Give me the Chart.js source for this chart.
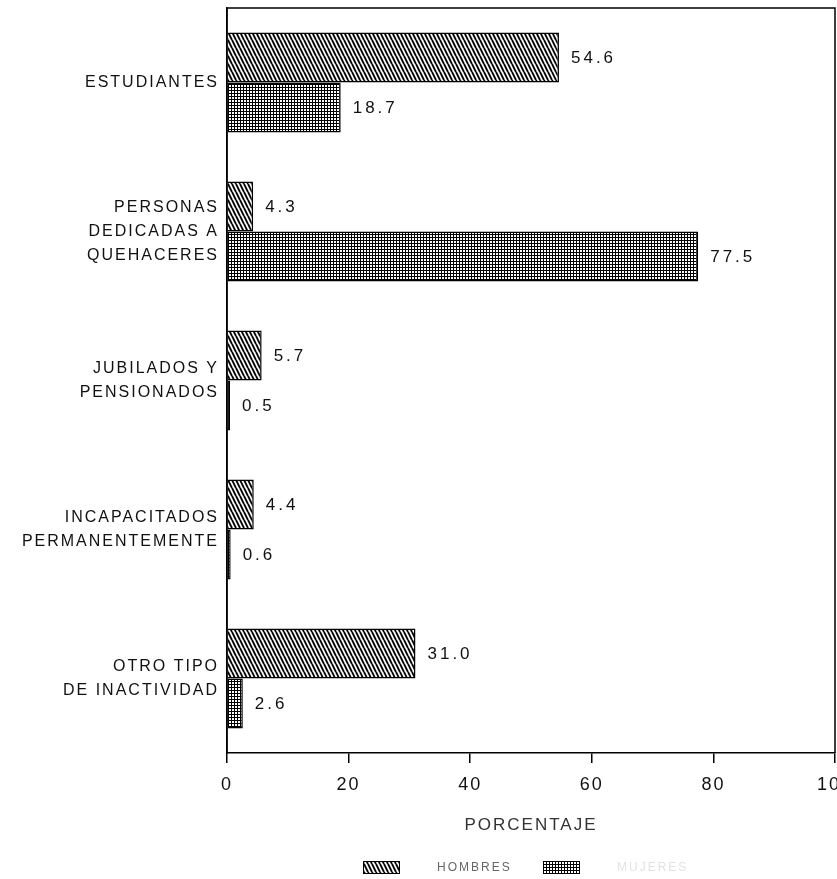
<!DOCTYPE html>
<html>
<head>
<meta charset="utf-8">
<script src="https://cdn.jsdelivr.net/npm/chart.js@4/dist/chart.umd.min.js"></script>
<style>
  html, body { margin: 0; padding: 0; background: #ffffff; }
  #wrap { width: 837px; height: 879px; position: relative; }
</style>
</head>
<body>
<div id="wrap"><canvas id="c" width="837" height="879"></canvas></div>
<script>
// ---- data ----
const categories = [
  ['ESTUDIANTES'],
  ['PERSONAS', 'DEDICADAS A', 'QUEHACERES'],
  ['JUBILADOS Y', 'PENSIONADOS'],
  ['INCAPACITADOS', 'PERMANENTEMENTE'],
  ['OTRO TIPO', 'DE INACTIVIDAD']
];
const seriesNames = ['HOMBRES', 'MUJERES'];
const hombres = [54.6, 4.3, 5.7, 4.4, 31.0];
const mujeres = [18.7, 77.5, 0.5, 0.6, 2.6];
const xTickValues = [0, 20, 40, 60, 80, 100];
const axisTitle = 'PORCENTAJE';

// ---- patterns ----
function hatchPattern() {
  const t = document.createElement('canvas');
  t.width = 4; t.height = 8;
  const g = t.getContext('2d');
  g.fillStyle = '#fff'; g.fillRect(0, 0, 4, 8);
  g.strokeStyle = '#000'; g.lineWidth = 1.9;
  for (const x0 of [-4, 0, 4]) {
    g.beginPath(); g.moveTo(x0, 0); g.lineTo(x0 + 4, 8); g.stroke();
  }
  return g.createPattern(t, 'repeat');
}
function gridPattern() {
  const t = document.createElement('canvas');
  t.width = 3; t.height = 3;
  const g = t.getContext('2d');
  g.fillStyle = '#fff'; g.fillRect(0, 0, 3, 3);
  g.fillStyle = '#000';
  g.fillRect(0, 0, 3, 1);
  g.fillRect(0, 0, 1, 3);
  return g.createPattern(t, 'repeat');
}
const pHatch = hatchPattern();
const pGrid = gridPattern();
const FONT = "'Liberation Sans', Arial, Helvetica, sans-serif";

// ---- plugins ----
const spacingPlugin = {
  id: 'spacing',
  beforeDraw(chart) { chart.ctx.letterSpacing = '2px'; }
};
const framePlugin = {
  id: 'frame',
  afterDraw(chart) {
    const { ctx, chartArea: a } = chart;
    ctx.save();
    ctx.strokeStyle = '#000';
    ctx.lineWidth = 1.5;
    ctx.beginPath();
    ctx.moveTo(a.left, a.bottom);
    ctx.lineTo(a.left, a.top);
    ctx.lineTo(a.right, a.top);
    ctx.lineTo(a.right, a.bottom);
    ctx.stroke();
    ctx.restore();
  }
};
const valuePlugin = {
  id: 'values',
  afterDatasetsDraw(chart) {
    const ctx = chart.ctx;
    ctx.save();
    ctx.letterSpacing = '3px';
    ctx.font = '17px ' + FONT;
    ctx.fillStyle = '#111';
    ctx.textAlign = 'left';
    ctx.textBaseline = 'middle';
    chart.data.datasets.forEach((ds, di) => {
      chart.getDatasetMeta(di).data.forEach((bar, i) => {
        ctx.fillText(ds.data[i].toFixed(1), bar.x + 12, bar.y + 1);
      });
    });
    ctx.restore();
  }
};
const legendPlugin = {
  id: 'customLegend',
  afterDraw(chart) {
    const { ctx, chartArea: a } = chart;
    const cx = (a.left + a.right) / 2;
    const y = 861, h = 12, w = 36;
    const items = [
      { x: cx - 168, fill: pHatch, text: chart.data.datasets[0].label, color: '#666' },
      { x: cx + 12, fill: pGrid, text: chart.data.datasets[1].label, color: '#e2e2e2' }
    ];
    ctx.save();
    ctx.letterSpacing = '2px';
    ctx.font = '12px ' + FONT;
    ctx.textBaseline = 'middle';
    items.forEach(it => {
      ctx.fillStyle = it.fill;
      ctx.fillRect(it.x, y, w, h);
      ctx.strokeStyle = '#000'; ctx.lineWidth = 1;
      ctx.strokeRect(it.x + 0.5, y + 0.5, w, h);
      ctx.fillStyle = it.color;
      ctx.fillText(it.text, it.x + w + 38, y + h / 2 + 1);
    });
    ctx.restore();
  }
};

new Chart(document.getElementById('c'), {
  type: 'bar',
  data: {
    labels: categories,
    datasets: [
      { label: seriesNames[0], data: hombres, backgroundColor: pHatch, borderColor: '#000', borderWidth: 1.5 },
      { label: seriesNames[1], data: mujeres, backgroundColor: pGrid, borderColor: '#000', borderWidth: 1.5 }
    ]
  },
  options: {
    indexAxis: 'y',
    responsive: false,
    animation: false,
    devicePixelRatio: 1,
    categoryPercentage: 0.671,
    barPercentage: 1.0,
    layout: { padding: { top: 8, right: 2, left: 0, bottom: 40 } },
    plugins: {
      legend: { display: false },
      tooltip: { enabled: false },
      title: { display: false }
    },
    scales: {
      x: {
        type: 'linear',
        position: 'bottom',
        min: 0,
        max: 100,
        afterBuildTicks(scale) { scale.ticks = xTickValues.map(v => ({ value: v })); },
        afterFit(scale) { scale.height = 86; scale.paddingLeft = 0; scale.paddingRight = 0; },
        grid: { display: true, drawOnChartArea: false, drawTicks: true, tickLength: 10, color: '#000', lineWidth: 1.5 },
        border: { display: true, color: '#000', width: 1.5 },
        ticks: {
          font: { family: FONT, size: 18 },
          color: '#111',
          padding: 11,
          maxRotation: 0,
          autoSkip: false
        },
        title: {
          display: true,
          text: axisTitle,
          font: { family: FONT, size: 17 },
          color: '#333',
          padding: { top: 0, bottom: 3 }
        }
      },
      y: {
        type: 'category',
        afterFit(scale) { scale.width = 227; scale.paddingTop = 0; scale.paddingBottom = 0; },
        grid: { display: false, drawTicks: false },
        border: { display: true, color: '#000', width: 1.5 },
        ticks: {
          font: { family: FONT, size: 16, lineHeight: 1.5 },
          color: '#111',
          padding: 8,
          autoSkip: false
        }
      }
    }
  },
  plugins: [spacingPlugin, framePlugin, valuePlugin, legendPlugin]
});
</script>
</body>
</html>
